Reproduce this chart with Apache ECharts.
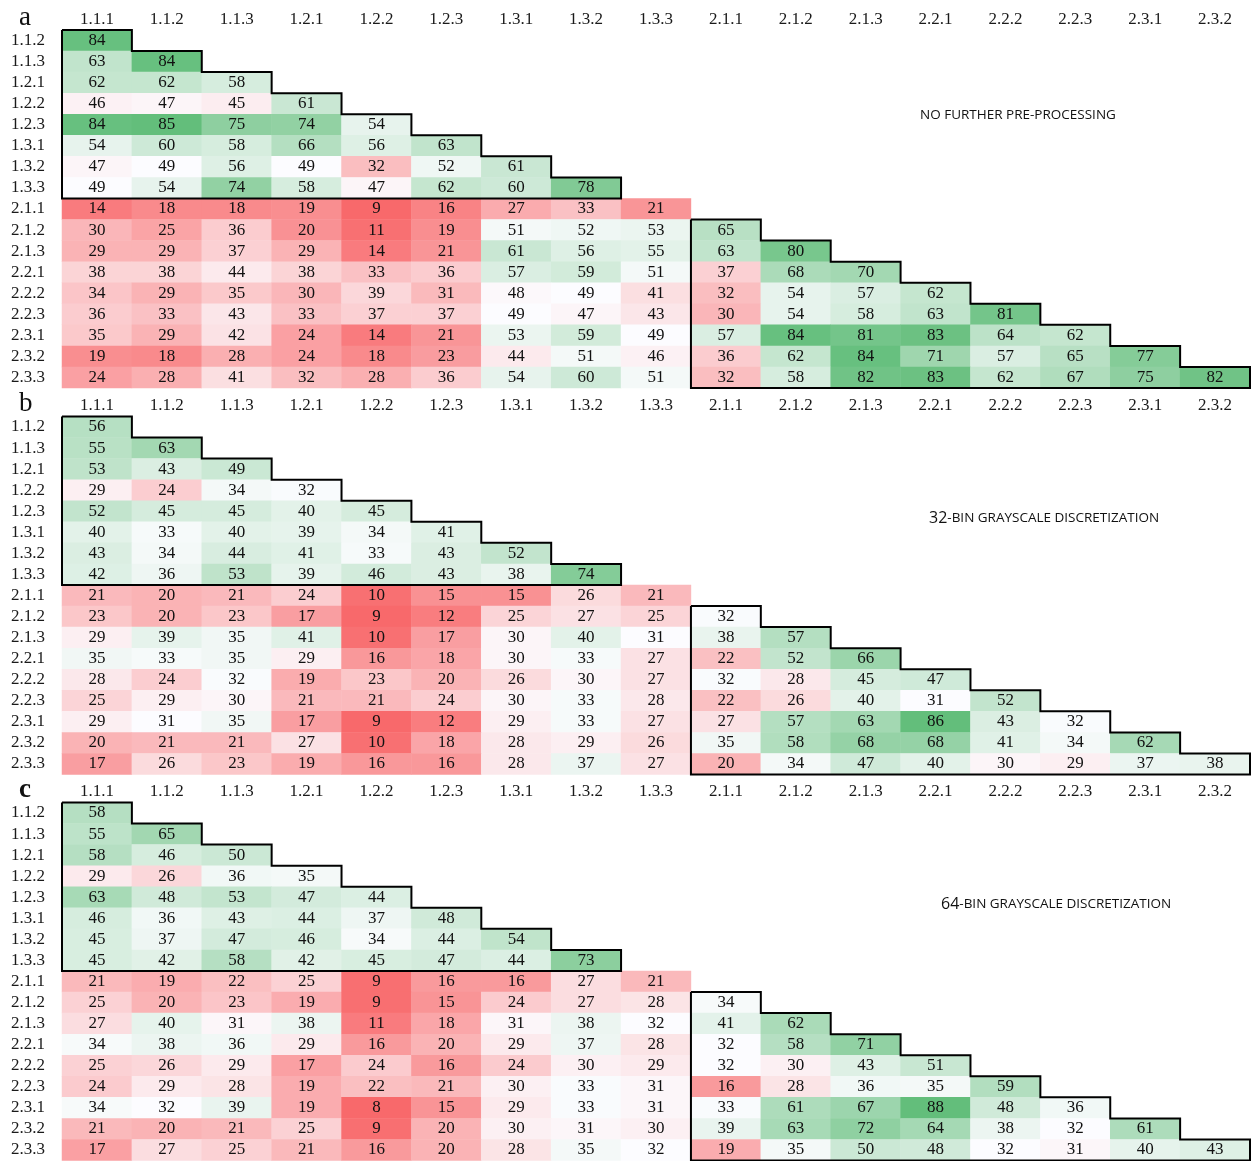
<!DOCTYPE html>
<html>
<head>
<meta charset="utf-8">
<script src="https://cdn.jsdelivr.net/npm/echarts@6/dist/echarts.min.js"></script>
<style>
  html, body { margin: 0; padding: 0; background: #fff; }
  #container { width: 1252px; height: 1161px; }
</style>
</head>
<body>
<div id="container"></div>
<script>
const cols = ["1.1.1", "1.1.2", "1.1.3", "1.2.1", "1.2.2", "1.2.3", "1.3.1", "1.3.2", "1.3.3",
  "2.1.1", "2.1.2", "2.1.3", "2.2.1", "2.2.2", "2.2.3", "2.3.1", "2.3.2"];
const rows = ["1.1.2", "1.1.3", "1.2.1", "1.2.2", "1.2.3", "1.3.1", "1.3.2", "1.3.3",
  "2.1.1", "2.1.2", "2.1.3", "2.2.1", "2.2.2", "2.2.3", "2.3.1", "2.3.2", "2.3.3"];

// lower triangle, one list per row
const panelA = [
  [84],
  [63, 84],
  [62, 62, 58],
  [46, 47, 45, 61],
  [84, 85, 75, 74, 54],
  [54, 60, 58, 66, 56, 63],
  [47, 49, 56, 49, 32, 52, 61],
  [49, 54, 74, 58, 47, 62, 60, 78],
  [14, 18, 18, 19, 9, 16, 27, 33, 21],
  [30, 25, 36, 20, 11, 19, 51, 52, 53, 65],
  [29, 29, 37, 29, 14, 21, 61, 56, 55, 63, 80],
  [38, 38, 44, 38, 33, 36, 57, 59, 51, 37, 68, 70],
  [34, 29, 35, 30, 39, 31, 48, 49, 41, 32, 54, 57, 62],
  [36, 33, 43, 33, 37, 37, 49, 47, 43, 30, 54, 58, 63, 81],
  [35, 29, 42, 24, 14, 21, 53, 59, 49, 57, 84, 81, 83, 64, 62],
  [19, 18, 28, 24, 18, 23, 44, 51, 46, 36, 62, 84, 71, 57, 65, 77],
  [24, 28, 41, 32, 28, 36, 54, 60, 51, 32, 58, 82, 83, 62, 67, 75, 82]
];
const panelB = [
  [56],
  [55, 63],
  [53, 43, 49],
  [29, 24, 34, 32],
  [52, 45, 45, 40, 45],
  [40, 33, 40, 39, 34, 41],
  [43, 34, 44, 41, 33, 43, 52],
  [42, 36, 53, 39, 46, 43, 38, 74],
  [21, 20, 21, 24, 10, 15, 15, 26, 21],
  [23, 20, 23, 17, 9, 12, 25, 27, 25, 32],
  [29, 39, 35, 41, 10, 17, 30, 40, 31, 38, 57],
  [35, 33, 35, 29, 16, 18, 30, 33, 27, 22, 52, 66],
  [28, 24, 32, 19, 23, 20, 26, 30, 27, 32, 28, 45, 47],
  [25, 29, 30, 21, 21, 24, 30, 33, 28, 22, 26, 40, 31, 52],
  [29, 31, 35, 17, 9, 12, 29, 33, 27, 27, 57, 63, 86, 43, 32],
  [20, 21, 21, 27, 10, 18, 28, 29, 26, 35, 58, 68, 68, 41, 34, 62],
  [17, 26, 23, 19, 16, 16, 28, 37, 27, 20, 34, 47, 40, 30, 29, 37, 38]
];
const panelC = [
  [58],
  [55, 65],
  [58, 46, 50],
  [29, 26, 36, 35],
  [63, 48, 53, 47, 44],
  [46, 36, 43, 44, 37, 48],
  [45, 37, 47, 46, 34, 44, 54],
  [45, 42, 58, 42, 45, 47, 44, 73],
  [21, 19, 22, 25, 9, 16, 16, 27, 21],
  [25, 20, 23, 19, 9, 15, 24, 27, 28, 34],
  [27, 40, 31, 38, 11, 18, 31, 38, 32, 41, 62],
  [34, 38, 36, 29, 16, 20, 29, 37, 28, 32, 58, 71],
  [25, 26, 29, 17, 24, 16, 24, 30, 29, 32, 30, 43, 51],
  [24, 29, 28, 19, 22, 21, 30, 33, 31, 16, 28, 36, 35, 59],
  [34, 32, 39, 19, 8, 15, 29, 33, 31, 33, 61, 67, 88, 48, 36],
  [21, 20, 21, 25, 9, 20, 30, 31, 30, 39, 63, 72, 64, 38, 32, 61],
  [17, 27, 25, 21, 16, 20, 28, 35, 32, 19, 35, 50, 48, 32, 31, 40, 43]
];

const panels = [panelA, panelB, panelC];
const letters = ["a", "b", "c"];
const gridTops = [30, 416.5, 802.5];
const rowH = 21.06;

// excel style 3-colour scale: min red, median white, max green
const RED = [248, 105, 107], WHITE = [252, 252, 255], GREEN = [99, 190, 123];
function mix(a, b, t) {
  return "rgb(" + a.map((v, i) => Math.round(v + (b[i] - v) * t)).join(",") + ")";
}
function scaleFor(panel) {
  const all = panel.flat().slice().sort((x, y) => x - y);
  const n = all.length;
  const mid = n % 2 ? all[(n - 1) / 2] : (all[n / 2 - 1] + all[n / 2]) / 2;
  const lo = all[0], hi = all[n - 1];
  return (v) => v <= mid
    ? mix(RED, WHITE, (v - lo) / (mid - lo))
    : mix(WHITE, GREEN, (v - mid) / (hi - mid));
}

const serif = "Liberation Serif";
const grids = [], xAxes = [], yAxes = [], series = [];

panels.forEach((panel, p) => {
  grids.push({ left: 62, right: 2, top: gridTops[p], height: rowH * 17 });
  xAxes.push({
    type: "category", gridIndex: p, position: "top", data: cols,
    axisLine: { show: false }, axisTick: { show: false }, splitLine: { show: false },
    axisLabel: { interval: 0, color: "#1a1a1a", fontFamily: serif, fontSize: 17, margin: 2 }
  });
  yAxes.push({
    type: "category", gridIndex: p, inverse: true, data: rows,
    axisLine: { show: false }, axisTick: { show: false }, splitLine: { show: false },
    axisLabel: { interval: 0, color: "#1a1a1a", fontFamily: serif, fontSize: 17, margin: 17 }
  });
  const colorOf = scaleFor(panel);
  const data = [];
  panel.forEach((r, i) => r.forEach((v, j) => {
    data.push({ value: [j, i, v], itemStyle: { color: colorOf(v) } });
  }));
  series.push({
    type: "heatmap", xAxisIndex: p, yAxisIndex: p, data: data,
    label: {
      show: true, formatter: (d) => d.value[2],
      color: "#111", fontFamily: serif, fontSize: 17
    },
    emphasis: { disabled: true }
  });
  // staircase outlines of the two diagonal blocks: [first row, first col, size]
  series.push({
    type: "custom", xAxisIndex: p, yAxisIndex: p, z: 10, clip: false, silent: true,
    data: [[0, 0, 8], [9, 9, 8]],
    renderItem: (params, api) => {
      const r0 = api.value(0), c0 = api.value(1), n = api.value(2);
      const size = api.size([1, 1]);
      const w = Math.abs(size[0]), h = Math.abs(size[1]);
      const origin = api.coord([c0, r0]);
      const X = (k) => origin[0] - w / 2 + k * w;
      const Y = (k) => origin[1] - h / 2 + k * h;
      const pts = [[X(0), Y(0)]];
      for (let k = 1; k <= n; k++) {
        pts.push([X(k), Y(k - 1)]);
        pts.push([X(k), Y(k)]);
      }
      pts.push([X(0), Y(n)]);
      pts.push([X(0), Y(0)]);
      return {
        type: "polyline", shape: { points: pts },
        style: { fill: null, stroke: "#000", lineWidth: 2 }
      };
    }
  });
});

const sans = "Open Sans";
const titles = letters.map((l, p) => ({
  text: l, left: 14, top: gridTops[p] - 31,
  textStyle: { fontFamily: serif, fontSize: 27, fontWeight: p === 2 ? "bold" : "normal", color: "#111" }
}));
titles.push({
  text: "NO FURTHER PRE-PROCESSING", left: 915, top: 103,
  textStyle: { fontFamily: sans, fontSize: 13.5, fontWeight: "normal", color: "#111" }
});
const sub = (txt, num, left, top) => ({
  text: "{a|" + num + "}{b|" + txt + "}", left: left, top: top,
  textStyle: { fontWeight: "normal", rich: {
    a: { fontFamily: sans, fontSize: 16, fontWeight: "normal", color: "#111" },
    b: { fontFamily: sans, fontSize: 13.5, fontWeight: "normal", color: "#111" }
  } }
});
titles.push(sub("-BIN GRAYSCALE DISCRETIZATION", "32", 924, 505));
titles.push(sub("-BIN GRAYSCALE DISCRETIZATION", "64", 936, 891));

let myChart = echarts.init(document.getElementById("container"), null, { renderer: "canvas" });
myChart.setOption({
  animation: false,
  title: titles,
  grid: grids,
  xAxis: xAxes,
  yAxis: yAxes,
  series: series
});
window.addEventListener("resize", myChart.resize);
</script>
</body>
</html>
